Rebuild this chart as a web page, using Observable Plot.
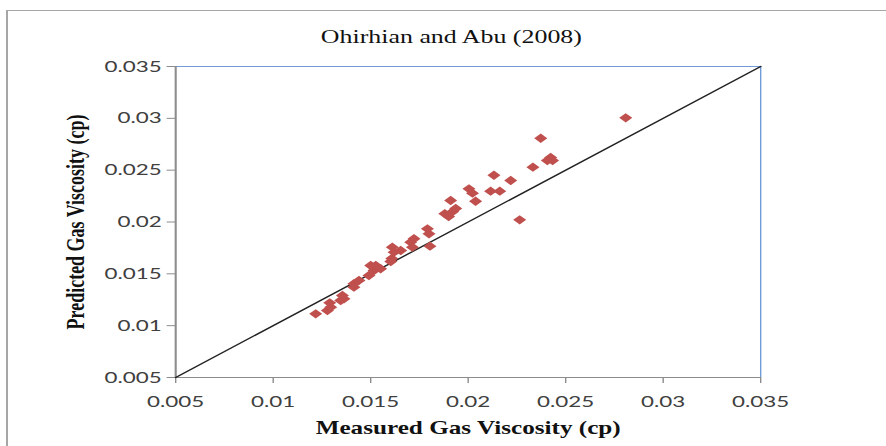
<!DOCTYPE html>
<html><head><meta charset="utf-8">
<script src="https://cdn.jsdelivr.net/npm/d3@7"></script>
<script src="https://cdn.jsdelivr.net/npm/@observablehq/plot@0.6"></script>
<style>
html,body{margin:0;padding:0;background:#fff;overflow:hidden;}
#wrap{position:relative;width:886px;height:446px;overflow:hidden;background:#fff;}
#border{position:absolute;left:6px;top:10px;width:900px;height:460px;border-left:2px solid #a6a6a6;border-top:1px solid #a6a6a6;}
#chart{position:absolute;left:0;top:0;}
#chart svg{transform-origin:0 0;display:block;}
</style></head><body>
<div id="wrap"><div id="border"></div><div id="chart"></div></div>
<script>
const title = "Ohirhian and Abu (2008)";
const xLabel = "Measured Gas Viscosity (cp)";
const yLabel = "Predicted Gas Viscosity (cp)";
const measured = [
  0.01218, 0.01278, 0.01295, 0.0129, 0.01346, 0.01363, 0.01355, 0.01414, 0.0144, 0.01414,
  0.0150, 0.01517, 0.01491, 0.01526, 0.01551, 0.01611, 0.0162, 0.01654, 0.01608, 0.01603,
  0.01705, 0.01722, 0.01714, 0.01791, 0.01799, 0.01804, 0.0191, 0.0188, 0.0190, 0.0192,
  0.01936, 0.02004, 0.02022, 0.02038, 0.02115, 0.02162, 0.02132, 0.02218, 0.02264, 0.02332,
  0.02372, 0.02406, 0.02423, 0.02433, 0.02808
];
const predicted = [
  0.01114, 0.01146, 0.01178, 0.0122, 0.01243, 0.01259, 0.01291, 0.01404, 0.01436, 0.01371,
  0.0158, 0.01532, 0.01484, 0.0158, 0.01549, 0.01757, 0.01709, 0.01725, 0.01648, 0.01619,
  0.01805, 0.01838, 0.01757, 0.01934, 0.01886, 0.01767, 0.02207, 0.0208, 0.02053, 0.021,
  0.0213, 0.0232, 0.02278, 0.022, 0.02297, 0.02297, 0.02451, 0.024, 0.02021, 0.02529,
  0.02808, 0.02593, 0.02622, 0.02593, 0.03005
];
const tickValues = [0.005, 0.01, 0.015, 0.02, 0.025, 0.03, 0.035];
const tickLabels = ["0.005", "0.01", "0.015", "0.02", "0.025", "0.03", "0.035"];
const lineEnds = [0.005, 0.035];

const S = 1.4;
const W = 886 / S;
const blue = "#6f9bd8";
const axisGray = "#8c8c8c";
const points = measured.map((m, i) => ({m, p: predicted[i]}));
const fmt = d => tickLabels[tickValues.indexOf(d)];
const serif = "'Liberation Serif', 'Times New Roman', serif";

const chart = Plot.plot({
  width: W, height: 446,
  marginLeft: 125, marginRight: W - 760 / S, marginTop: 66, marginBottom: 69,
  x: {domain: [0.005, 0.035]},
  y: {domain: [0.005, 0.035]},
  style: {fontFamily: "Lato", background: "transparent", overflow: "visible"},
  marks: [
    Plot.ruleY([lineEnds[1]], {stroke: blue, strokeWidth: 1}),
    Plot.ruleX([lineEnds[1]], {stroke: blue, strokeWidth: 1}),
    Plot.ruleX([lineEnds[0]], {stroke: axisGray, strokeWidth: 1.5}),
    Plot.ruleY([lineEnds[0]], {stroke: axisGray, strokeWidth: 1}),
    Plot.axisX({ticks: tickValues, tickFormat: fmt, tickSize: 6, tickPadding: 12, fontSize: 16, fill: "#404040", stroke: axisGray, label: null}),
    Plot.axisY({ticks: tickValues, tickFormat: fmt, tickSize: 6, tickPadding: 4, fontSize: 16, fill: "#404040", stroke: axisGray, label: null}),
    Plot.line(lineEnds, {x: d => d, y: d => d, stroke: "#222", strokeWidth: 1.3}),
    Plot.dot(points, {x: "m", y: "p", symbol: "diamond2", r: 4.2, fill: "#c0504d", stroke: "none"}),
    Plot.text([title], {text: d => d, frameAnchor: "top", dy: -29, dx: -12, lineAnchor: "middle", textAnchor: "middle", fontFamily: serif, fontSize: 18.5, fill: "#111"}),
    Plot.text([xLabel], {text: d => d, frameAnchor: "bottom", dy: 51, lineAnchor: "middle", textAnchor: "middle", fontFamily: serif, fontWeight: "bold", fontSize: 18, fill: "#111"}),
    Plot.text([yLabel], {text: d => d, frameAnchor: "left", rotate: -90, dx: -71, lineAnchor: "middle", textAnchor: "middle", fontFamily: serif, fontWeight: "bold", fontSize: 18, fill: "#111"})
  ]
});
chart.style.transform = `scale(${S},1)`;
document.getElementById("chart").appendChild(chart);
</script>
</body></html>
